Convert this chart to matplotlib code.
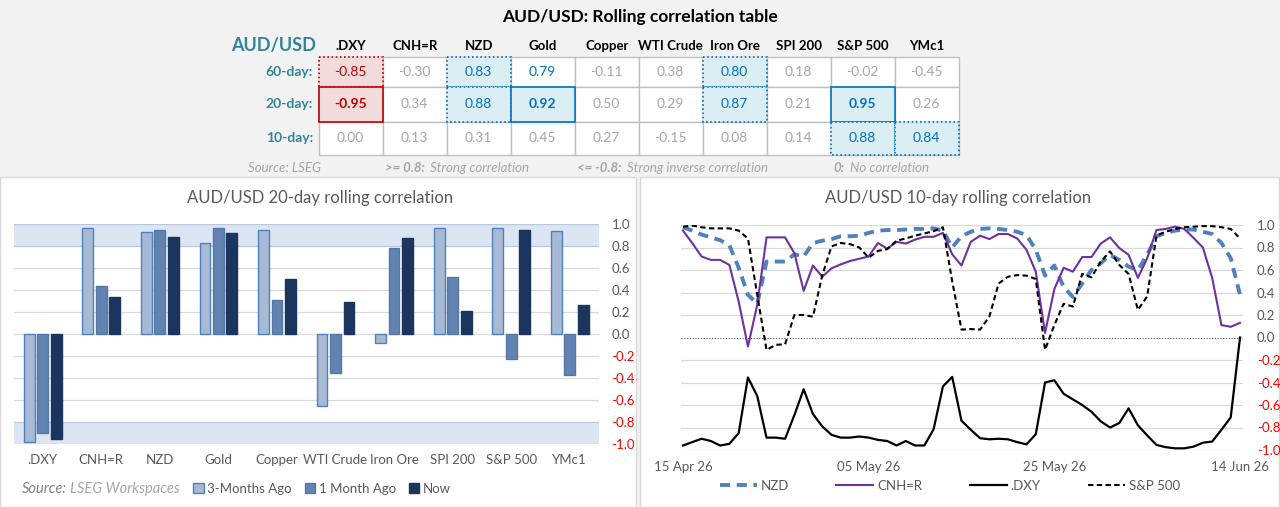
import matplotlib.pyplot as plt
import matplotlib.patches as mpatches
import matplotlib.dates as mdates
import pandas as pd
import numpy as np

plt.rcParams['font.family'] = ['Lato', 'DejaVu Sans']

# ---- data ----
assets = ['.DXY', 'CNH=R', 'NZD', 'Gold', 'Copper', 'WTI Crude', 'Iron Ore', 'SPI 200', 'S&P 500', 'YMc1']
windows = ['60-day:', '20-day:', '10-day:']
corr_60 = [-0.85, -0.30, 0.83, 0.79, -0.11, 0.38, 0.80, 0.18, -0.02, -0.45]
corr_20 = [-0.95, 0.34, 0.88, 0.92, 0.50, 0.29, 0.87, 0.21, 0.95, 0.26]
corr_10 = [0.00, 0.13, 0.31, 0.45, 0.27, -0.15, 0.08, 0.14, 0.88, 0.84]

bar_3m = [-0.98, 0.96, 0.93, 0.83, 0.95, -0.65, -0.08, 0.96, 0.96, 0.94]
bar_1m = [-0.90, 0.44, 0.95, 0.96, 0.31, -0.35, 0.78, 0.52, -0.23, -0.37]
bar_now = corr_20

dates = pd.date_range('2026-04-15', '2026-06-14', freq='D')
nzd = [0.98, 0.95, 0.915, 0.89, 0.865, 0.82, 0.62, 0.38, 0.30, 0.675,
       0.675, 0.675, 0.74, 0.72, 0.84, 0.86, 0.875, 0.90, 0.90, 0.905,
       0.93, 0.95, 0.955, 0.955, 0.96, 0.965, 0.965, 0.97, 0.95, 0.80,
       0.90, 0.94, 0.965, 0.97, 0.965, 0.955, 0.94, 0.91, 0.78, 0.55,
       0.64, 0.45, 0.36, 0.48, 0.60, 0.66, 0.735, 0.69, 0.63, 0.60,
       0.735, 0.90, 0.93, 0.95, 0.96, 0.96, 0.94, 0.92, 0.84, 0.705, 0.38]
cnh = [0.95, 0.84, 0.72, 0.69, 0.69, 0.645, 0.32, -0.08, 0.29, 0.89,
       0.89, 0.89, 0.75, 0.415, 0.64, 0.54, 0.615, 0.65, 0.68, 0.70,
       0.72, 0.84, 0.79, 0.85, 0.835, 0.87, 0.895, 0.895, 0.93, 0.74,
       0.64, 0.85, 0.905, 0.875, 0.92, 0.92, 0.88, 0.78, 0.585, 0.04,
       0.43, 0.62, 0.585, 0.715, 0.715, 0.835, 0.89, 0.795, 0.735, 0.53,
       0.705, 0.955, 0.965, 0.985, 0.965, 0.885, 0.80, 0.53, 0.11, 0.095, 0.13]
dxy = [-0.96, -0.93, -0.90, -0.92, -0.96, -0.945, -0.85, -0.355, -0.52, -0.89,
       -0.89, -0.90, -0.69, -0.46, -0.68, -0.79, -0.865, -0.89, -0.89, -0.88,
       -0.89, -0.91, -0.92, -0.96, -0.92, -0.96, -0.96, -0.815, -0.435, -0.35,
       -0.74, -0.82, -0.895, -0.905, -0.90, -0.905, -0.93, -0.95, -0.86, -0.40,
       -0.38, -0.50, -0.55, -0.60, -0.66, -0.745, -0.80, -0.76, -0.63, -0.78,
       -0.87, -0.955, -0.975, -0.985, -0.985, -0.97, -0.935, -0.925, -0.82, -0.71, 0.0]
spx = [0.985, 0.995, 0.98, 0.97, 0.97, 0.97, 0.95, 0.88, 0.38, -0.11,
       -0.065, -0.06, 0.20, 0.20, 0.185, 0.55, 0.81, 0.84, 0.83, 0.80,
       0.71, 0.77, 0.785, 0.86, 0.88, 0.905, 0.925, 0.945, 0.98, 0.50,
       0.07, 0.075, 0.07, 0.185, 0.48, 0.54, 0.555, 0.55, 0.52, -0.11,
       0.11, 0.30, 0.275, 0.565, 0.535, 0.675, 0.765, 0.645, 0.565, 0.245,
       0.365, 0.905, 0.94, 0.965, 0.98, 0.985, 0.99, 0.99, 0.98, 0.965, 0.88]

# ---- colours ----
teal = '#31849b'
grey_txt = '#a6a6a6'
dark_txt = '#595959'
red = '#c00000'
blue = '#0070c0'
red_fill = '#f2dcdb'
blue_fill = '#daeef3'

W, H = 1280, 507
fig = plt.figure(figsize=(W / 100, H / 100), dpi=100)
fig.patch.set_facecolor('#f2f2f2')

# background axes in pixel coordinates
bg = fig.add_axes([0, 0, 1, 1])
bg.set_xlim(0, W)
bg.set_ylim(H, 0)
bg.axis('off')

# panels
bg.add_patch(mpatches.Rectangle((0, 177), 636, 330, facecolor='white', edgecolor='#d9d9d9', lw=1))
bg.add_patch(mpatches.Rectangle((640, 177), 639, 330, facecolor='white', edgecolor='#d9d9d9', lw=1))

# ---- table ----
bg.text(640, 17, 'AUD/USD: Rolling correlation table', ha='center', va='center',
        fontsize=12.5, fontweight='bold', color='black')
bg.text(274, 45, 'AUD/USD', ha='center', va='center', fontsize=13, fontweight='bold', color=teal)

col_x0, col_w = 318.7, 64
row_edges = [56.7, 86.7, 121.7, 155]
for j, a in enumerate(assets):
    bg.text(col_x0 + col_w * (j + 0.5), 46.5, a, ha='center', va='center',
            fontsize=9.5, fontweight='bold', color='black')

rows = [corr_60, corr_20, corr_10]
for r, vals in enumerate(rows):
    y0, y1 = row_edges[r], row_edges[r + 1]
    bg.text(313, (y0 + y1) / 2, windows[r], ha='right', va='center',
            fontsize=10, fontweight='bold', color=teal)
    for j, v in enumerate(vals):
        x = col_x0 + col_w * j
        bg.add_patch(mpatches.Rectangle((x, y0), col_w, y1 - y0, facecolor='white',
                                        edgecolor='#bfbfbf', lw=1, zorder=1))
for r, vals in enumerate(rows):
    y0, y1 = row_edges[r], row_edges[r + 1]
    for j, v in enumerate(vals):
        x = col_x0 + col_w * j
        color, weight = grey_txt, 'normal'
        fill, edge, ls = None, None, None
        if v <= -0.9:
            color, weight, fill, edge, ls = red, 'bold', red_fill, red, '-'
        elif v <= -0.8:
            color, fill, edge, ls = red, red_fill, red, (0, (1, 1.5))
        elif v >= 0.9:
            color, weight, fill, edge, ls = blue, 'bold', blue_fill, blue, '-'
        elif v >= 0.8:
            color, fill, edge, ls = blue, blue_fill, blue, (0, (1, 1.5))
        elif v >= 0.75:
            color = blue
        if fill:
            bg.add_patch(mpatches.Rectangle((x, y0), col_w, y1 - y0, facecolor=fill,
                                            edgecolor=edge, lw=1.2, linestyle=ls, zorder=2))
        bg.text(x + col_w / 2, (y0 + y1) / 2, f'{v:.2f}', ha='center', va='center',
                fontsize=10, fontweight=weight, color=color, zorder=3)

# footnotes: bold key followed by plain description
fn = dict(fontsize=9.5, style='italic', color=grey_txt, va='center')
bg.text(248, 168, 'Source: LSEG', **fn)
for x0, key, desc in [(385, '>= 0.8:', 'Strong correlation'),
                      (577, '<= -0.8:', 'Strong inverse correlation'),
                      (833, '0:', 'No correlation')]:
    k = bg.text(x0, 168, key, fontweight='bold', **fn)
    bg.annotate(desc, xy=(1, 0.5), xycoords=k, xytext=(4, 0), textcoords='offset points',
                fontsize=9.5, style='italic', color=grey_txt, va='center', ha='left')

ticks = np.round(np.arange(-1.0, 1.01, 0.2), 1) + 0.0
tick_labels = [f'{abs(t):.1f}' if abs(t) < 1e-9 else f'{t:.1f}' for t in ticks]

# ---- left: bar chart ----
axL = fig.add_axes([13.5 / W, (H - 444) / H, 585.5 / W, 220 / H])
axL.set_facecolor('none')
x = np.arange(len(assets))
bw = 0.185
axL.axhspan(0.8, 1.0, color='#dce6f2', zorder=0, lw=0)
axL.axhspan(-1.0, -0.8, color='#dce6f2', zorder=0, lw=0)
for t in ticks:
    c = '#b8c7dc' if abs(t) >= 0.8 else '#d9d9d9'
    axL.axhline(t, color=c, lw=0.9, zorder=0.5)
axL.bar(x - 0.23, bar_3m, bw, color='#a7bad4', edgecolor='#4f81bd', lw=1, zorder=2, label='3-Months Ago')
axL.bar(x, bar_1m, bw, color='#6283b0', edgecolor='#5577a8', lw=1, zorder=2, label='1 Month Ago')
axL.bar(x + 0.23, bar_now, bw, color='#1c355e', edgecolor='#1c355e', lw=1, zorder=2, label='Now')
axL.set_xlim(-0.5, len(assets) - 0.5)
axL.set_ylim(-1.0, 1.0)
axL.set_xticks(x)
axL.set_xticklabels(assets, fontsize=9.5, color=dark_txt)
axL.yaxis.tick_right()
axL.set_yticks(ticks)
axL.set_yticklabels(tick_labels, fontsize=9.5)
for lab, t in zip(axL.get_yticklabels(), ticks):
    lab.set_color('#ff0000' if t < -1e-9 else dark_txt)
axL.tick_params(length=0, axis='y', pad=9)
axL.tick_params(length=0, axis='x', pad=7)
for s in axL.spines.values():
    s.set_visible(False)
bg.text(320, 198, 'AUD/USD 20-day rolling correlation', ha='center', va='center',
        fontsize=12, color=dark_txt)
bg.text(22, 489, 'Source:', ha='left', va='center', fontsize=10.5, style='italic', color='#808080')
bg.text(70, 489, 'LSEG Workspaces', ha='left', va='center', fontsize=10.5, style='italic', color=grey_txt)
hL, lL = axL.get_legend_handles_labels()
fig.legend(hL, lL, loc='center', bbox_to_anchor=(322 / W, (H - 489) / H), ncol=3, frameon=False,
           fontsize=9.5, handlelength=0.8, handleheight=0.8, handletextpad=0.25,
           columnspacing=1.0, labelcolor=dark_txt)

# ---- right: line chart ----
axR = fig.add_axes([681.1 / W, (H - 450) / H, 561.7 / W, 225 / H])
axR.set_facecolor('none')
for t in ticks:
    if abs(t) < 1e-9:
        axR.axhline(0, color='#595959', lw=0.8, ls=(0, (1, 1.5)), zorder=0.5)
    else:
        axR.axhline(t, color='#d9d9d9', lw=0.9, zorder=0.5)
axR.plot(dates, nzd, color='#4f81bd', lw=2.8, dashes=(2.6, 1.7), label='NZD', zorder=3)
axR.plot(dates, cnh, color='#7030a0', lw=1.5, label='CNH=R', zorder=4)
axR.plot(dates, dxy, color='black', lw=1.6, label='.DXY', zorder=4)
axR.plot(dates, spx, color='black', lw=1.5, dashes=(2.6, 1.6), label='S&P 500', zorder=5)
d0 = mdates.date2num(dates[0])
axR.set_xlim(d0 - 0.2, d0 + 60.3)
axR.set_ylim(-1.0, 1.0)
axR.set_xticks(dates[::20])
axR.xaxis.set_major_formatter(mdates.DateFormatter('%d %b %y'))
axR.tick_params(axis='x', length=0, pad=8, labelsize=9.5, labelcolor=dark_txt)
axR.yaxis.tick_right()
axR.set_yticks(ticks)
axR.set_yticklabels(tick_labels, fontsize=9.5)
for lab, t in zip(axR.get_yticklabels(), ticks):
    lab.set_color('#ff0000' if t < -1e-9 else dark_txt)
axR.tick_params(axis='y', length=0, pad=10)
for s in axR.spines.values():
    s.set_visible(False)
bg.text(958, 198, 'AUD/USD 10-day rolling correlation', ha='center', va='center',
        fontsize=12, color=dark_txt)
hR, lR = axR.get_legend_handles_labels()
fig.legend(hR, lR, loc='center', bbox_to_anchor=(950 / W, (H - 486) / H), ncol=4, frameon=False,
           fontsize=9.5, handlelength=2.8, handletextpad=0.3, columnspacing=3.6,
           labelcolor=dark_txt)

fig.savefig('out.png', dpi=100, facecolor=fig.get_facecolor())
